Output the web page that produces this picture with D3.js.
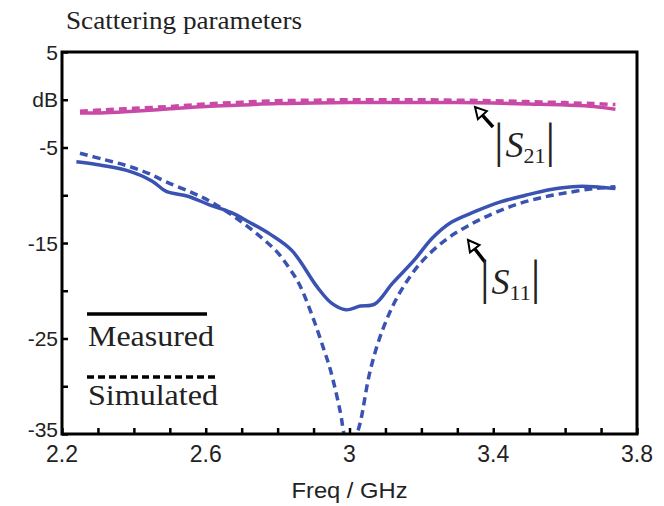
<!DOCTYPE html>
<html>
<head>
<meta charset="utf-8">
<script src="https://cdnjs.cloudflare.com/ajax/libs/d3/7.8.5/d3.min.js"></script>
<style>
  body { margin: 0; background: #fff; }
  svg { display: block; }
</style>
</head>
<body>
<div id="chart"></div>
<script>
// 数据
const s21MeasFreq = [2.25, 2.32, 2.4, 2.5, 2.6, 2.7, 2.8, 2.9, 3.0, 3.1, 3.2, 3.3, 3.4, 3.5, 3.6, 3.68, 3.74];
const s21MeasDb   = [-1.4, -1.35, -1.2, -0.95, -0.7, -0.55, -0.4, -0.35, -0.3, -0.3, -0.3, -0.3, -0.35, -0.45, -0.55, -0.7, -1.0];
const s21SimFreq  = [2.25, 2.32, 2.4, 2.5, 2.6, 2.7, 2.8, 2.9, 3.0, 3.1, 3.2, 3.3, 3.4, 3.5, 3.6, 3.68, 3.74];
const s21SimDb    = [-1.2, -1.05, -0.9, -0.7, -0.45, -0.25, -0.1, -0.05, 0.0, 0.0, 0.0, -0.05, -0.1, -0.2, -0.3, -0.4, -0.5];

const s11MeasFreq = [2.24, 2.3, 2.38, 2.45, 2.49, 2.55, 2.61, 2.67, 2.72, 2.78, 2.84, 2.91, 2.95, 2.99, 3.03, 3.07, 3.12, 3.18, 3.23, 3.28, 3.35, 3.42, 3.49, 3.56, 3.62, 3.68, 3.74];
const s11MeasDb   = [-6.5, -6.8, -7.4, -8.5, -9.6, -10.1, -11.0, -11.8, -12.8, -14.1, -15.8, -19.6, -21.3, -22.0, -21.6, -21.4, -19.2, -16.8, -14.5, -12.9, -11.7, -10.7, -10.0, -9.4, -9.1, -9.1, -9.3];
const s11SimFreq  = [2.25, 2.32, 2.38, 2.44, 2.49, 2.56, 2.62, 2.7, 2.76, 2.8, 2.83, 2.86, 2.9, 2.93, 2.947, 2.975, 2.985, 3.0, 3.02, 3.03, 3.058, 3.095, 3.14, 3.2, 3.27, 3.33, 3.4, 3.47, 3.54, 3.61, 3.68, 3.74];
const s11SimDb    = [-5.6, -6.3, -6.9, -7.7, -8.6, -9.7, -10.8, -12.8, -14.6, -16.0, -17.5, -19.3, -23.0, -26.3, -28.3, -32.8, -35.0, -36.5, -35.0, -33.8, -28.3, -23.8, -20.2, -17.0, -14.6, -13.2, -11.9, -10.9, -10.2, -9.7, -9.3, -9.1];

const xTickMajor = [2.2, 2.6, 3.0, 3.4, 3.8];
const xTickLabels = ['2.2', '2.6', '3', '3.4', '3.8'];
const yTicks = [5, 0, -5, -10, -15, -20, -25, -30, -35];
const yTickLabels = ['5', 'dB', '-5', '', '-15', '', '-25', '', '-35'];

const width = 664, height = 506;
const margin = { top: 52, right: 27, bottom: 72, left: 62 };
const serif = "'Liberation Serif', 'Times New Roman', serif";
const sans = "'Liberation Sans', Arial, sans-serif";

const svg = d3.select('#chart')
    .append('svg')
    .attr('width', width)
    .attr('height', height);

const xScale = d3.scaleLinear()
    .domain([2.2, 3.8])
    .range([margin.left, width - margin.right]);

const yScale = d3.scaleLinear()
    .domain([-35, 5])
    .range([height - margin.bottom, margin.top]);

// 裁剪区域
svg.append('defs').append('clipPath')
    .attr('id', 'plotClip')
    .append('rect')
    .attr('x', margin.left)
    .attr('y', margin.top)
    .attr('width', width - margin.left - margin.right)
    .attr('height', height - margin.top - margin.bottom);

// 标题
svg.append('text')
    .attr('x', 66)
    .attr('y', 29)
    .attr('font-family', serif)
    .attr('font-size', 25)
    .attr('textLength', 236)
    .attr('lengthAdjust', 'spacingAndGlyphs')
    .attr('fill', '#222')
    .text('Scattering parameters');

// 曲线
const line = d3.line()
    .x(d => xScale(d[0]))
    .y(d => yScale(d[1]))
    .curve(d3.curveCatmullRom.alpha(0.5));

const series = [
    { f: s21MeasFreq, v: s21MeasDb, color: '#c94aa6', dash: null },
    { f: s21SimFreq, v: s21SimDb, color: '#c94aa6', dash: '8,5' },
    { f: s11MeasFreq, v: s11MeasDb, color: '#3a52b2', dash: null },
    { f: s11SimFreq, v: s11SimDb, color: '#3a52b2', dash: '8,5' }
];

const plot = svg.append('g').attr('clip-path', 'url(#plotClip)');
series.forEach(s => {
    plot.append('path')
        .datum(s.f.map((f, i) => [f, s.v[i]]))
        .attr('fill', 'none')
        .attr('stroke', s.color)
        .attr('stroke-width', 3.5)
        .attr('stroke-dasharray', s.dash)
        .attr('d', line);
});

// 坐标轴（刻度朝内）
const xAxis = d3.axisBottom(xScale)
    .tickValues(d3.range(22, 39).map(d => d / 10))
    .tickSize(-6)
    .tickFormat('');
svg.append('g')
    .attr('transform', `translate(0,${height - margin.bottom})`)
    .call(xAxis)
    .call(g => g.select('.domain').remove())
    .call(g => g.selectAll('line').attr('stroke', '#000').attr('stroke-width', 2.5));

const yAxis = d3.axisLeft(yScale)
    .tickValues(yTicks)
    .tickSize(-6)
    .tickFormat('');
svg.append('g')
    .attr('transform', `translate(${margin.left},0)`)
    .call(yAxis)
    .call(g => g.select('.domain').remove())
    .call(g => g.selectAll('line').attr('stroke', '#000').attr('stroke-width', 2.5));

// 边框
svg.append('rect')
    .attr('x', margin.left)
    .attr('y', margin.top)
    .attr('width', width - margin.left - margin.right)
    .attr('height', height - margin.top - margin.bottom)
    .attr('fill', 'none')
    .attr('stroke', '#000')
    .attr('stroke-width', 3);

// 刻度标签
svg.selectAll('.x-label')
    .data(xTickMajor)
    .enter()
    .append('text')
    .attr('class', 'x-label')
    .attr('x', d => xScale(d))
    .attr('y', height - margin.bottom + 28)
    .attr('text-anchor', 'middle')
    .attr('font-family', sans)
    .attr('font-size', 23)
    .attr('fill', '#222')
    .text((d, i) => xTickLabels[i]);

svg.selectAll('.y-label')
    .data(yTicks)
    .enter()
    .append('text')
    .attr('class', 'y-label')
    .attr('x', margin.left - 4)
    .attr('y', d => yScale(d) - (d === -35 ? 5 : 0))
    .attr('dy', '0.36em')
    .attr('text-anchor', 'end')
    .attr('font-family', sans)
    .attr('font-size', 21)
    .attr('fill', '#222')
    .text((d, i) => yTickLabels[i]);

svg.append('text')
    .attr('x', xScale(3.0))
    .attr('y', 498)
    .attr('text-anchor', 'middle')
    .attr('font-family', sans)
    .attr('font-size', 22)
    .attr('textLength', 116)
    .attr('lengthAdjust', 'spacingAndGlyphs')
    .attr('fill', '#222')
    .text('Freq / GHz');

// 图例
const legend = svg.append('g');
legend.append('line')
    .attr('x1', 87).attr('x2', 207)
    .attr('y1', 314).attr('y2', 314)
    .attr('stroke', '#000').attr('stroke-width', 3.5);
legend.append('text')
    .attr('x', 88).attr('y', 346)
    .attr('font-family', serif)
    .attr('font-size', 30)
    .attr('textLength', 126)
    .attr('lengthAdjust', 'spacingAndGlyphs')
    .attr('fill', '#222')
    .text('Measured');
legend.append('line')
    .attr('x1', 87).attr('x2', 216)
    .attr('y1', 377).attr('y2', 377)
    .attr('stroke', '#000').attr('stroke-width', 3.5)
    .attr('stroke-dasharray', '7,4');
legend.append('text')
    .attr('x', 88).attr('y', 405)
    .attr('font-family', serif)
    .attr('font-size', 30)
    .attr('textLength', 130)
    .attr('lengthAdjust', 'spacingAndGlyphs')
    .attr('fill', '#222')
    .text('Simulated');

// 标注 |S21| |S11|
function annotate(tip, tail, x, baseline, sub) {
    const g = svg.append('g');
    const ang = Math.atan2(tail[1] - tip[1], tail[0] - tip[0]);
    const headLen = 11, headW = 6;
    const bx = tip[0] + headLen * Math.cos(ang), by = tip[1] + headLen * Math.sin(ang);
    g.append('line')
        .attr('x1', bx).attr('y1', by)
        .attr('x2', tail[0]).attr('y2', tail[1])
        .attr('stroke', '#000').attr('stroke-width', 3.5);
    const px = -Math.sin(ang), py = Math.cos(ang);
    g.append('path')
        .attr('d', `M${tip[0]},${tip[1]}L${bx + px * headW},${by + py * headW}L${bx - px * headW},${by - py * headW}Z`)
        .attr('fill', '#fff').attr('stroke', '#000').attr('stroke-width', 2);

    const t = g.append('text')
        .attr('x', x).attr('y', baseline)
        .attr('font-family', serif)
        .attr('fill', '#222');
    t.append('tspan').attr('font-size', 48).text('|');
    t.append('tspan').attr('font-size', 36).attr('font-style', 'italic').attr('dx', 2).text('S');
    t.append('tspan').attr('font-size', 22).attr('dy', 6).text(sub);
    t.append('tspan').attr('font-size', 48).attr('dy', -6).text('|');
}

annotate([475, 107], [493, 127], 494, 157, '21');
annotate([468, 240], [485, 262], 480, 294, '11');
</script>
</body>
</html>
